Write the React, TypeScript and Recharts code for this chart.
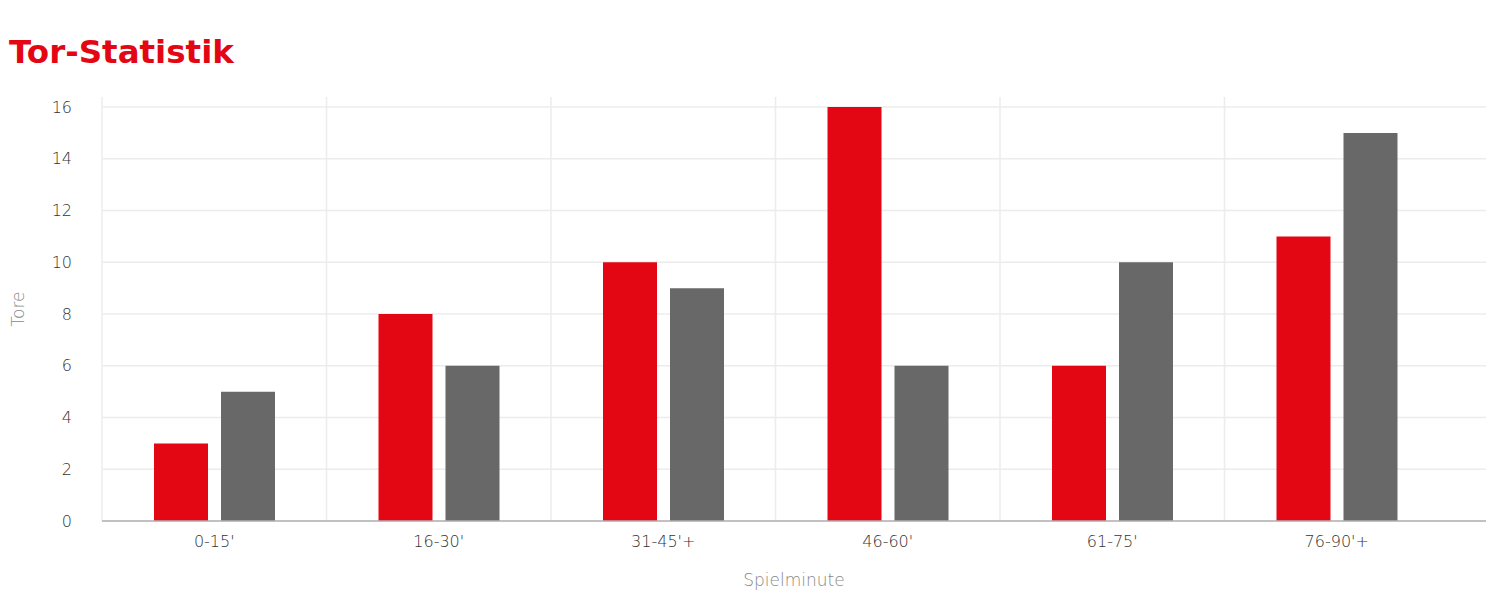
import React from "react";
import {
  BarChart,
  Bar,
  XAxis,
  YAxis,
  CartesianGrid,
  Label,
} from "recharts";

const CATEGORIES = ["0-15'", "16-30'", "31-45'+", "46-60'", "61-75'", "76-90'+"];
const TORE = [3, 8, 10, 16, 6, 11];
const GEGENTORE = [5, 6, 9, 6, 10, 15];
const Y_TICKS = [0, 2, 4, 6, 8, 10, 12, 14, 16];
const Y_MAX = 16;

const RED = "#e30613";
const GRAY = "#686868";
const FONT = "'DejaVu Sans', sans-serif";
const RIGHT_PAD = 37;
const TOP_PAD = 10;

const data = CATEGORIES.map((name, i) => ({
  name,
  tore: TORE[i],
  gegentore: GEGENTORE[i],
}));

// grid lines sit on the category boundaries, not on the tick centers
// eslint-disable-next-line @typescript-eslint/no-explicit-any
const boundaryLines = (props: any) => {
  const { offset } = props;
  const band = (offset.width - RIGHT_PAD) / CATEGORIES.length;
  return CATEGORIES.map((_, i) => offset.left + i * band);
};

// only the tick values, no extra line at the padded top
// eslint-disable-next-line @typescript-eslint/no-explicit-any
const tickLines = (props: any) => {
  const { offset } = props;
  const h = offset.height - TOP_PAD;
  return Y_TICKS.map((t) => offset.top + TOP_PAD + (1 - t / Y_MAX) * h);
};

const tickStyle = { fill: "#333", fontSize: 16, fontFamily: FONT, fontWeight: 200 };

export default function App() {
  return (
    <div
      style={{
        position: "absolute",
        left: 0,
        top: 0,
        width: 1503,
        height: 595,
        background: "#fff",
        fontFamily: FONT,
      }}
    >
      <div
        style={{
          position: "absolute",
          left: 9,
          top: 27,
          fontSize: 32.5,
          fontWeight: 700,
          color: RED,
          lineHeight: "50px",
        }}
      >
        Tor-Statistik
      </div>
      <BarChart
        width={1503}
        height={595}
        data={data}
        margin={{ top: 97, right: 17, bottom: 4, left: 0 }}
        barSize={54}
        barGap={13}
        style={{ position: "absolute", left: 0, top: 0 }}
      >
        <CartesianGrid
          stroke="#ececec"
          strokeWidth={1.5}
          verticalCoordinatesGenerator={boundaryLines}
          horizontalCoordinatesGenerator={tickLines}
        />
        <XAxis
          dataKey="name"
          height={70}
          padding={{ left: 0, right: RIGHT_PAD }}
          tickLine={false}
          axisLine={{ stroke: "#b0b0b0", strokeWidth: 1.5 }}
          tickMargin={9}
          tick={tickStyle}
          interval={0}
        >
          <Label
            value="Spielminute"
            position="insideBottom"
            offset={5}
            style={{ fill: "#888", fontSize: 17, fontFamily: FONT, fontWeight: 200 }}
          />
        </XAxis>
        <YAxis
          width={102}
          domain={[0, Y_MAX]}
          ticks={Y_TICKS}
          padding={{ top: TOP_PAD, bottom: 0 }}
          tickLine={false}
          axisLine={false}
          tickMargin={24}
          tick={tickStyle}
        >
          <Label
            value="Tore"
            angle={-90}
            position="insideLeft"
            offset={18}
            style={{
              fill: "#888",
              fontSize: 17,
              fontFamily: FONT,
              fontWeight: 200,
              textAnchor: "middle",
            }}
          />
        </YAxis>
        <Bar dataKey="tore" fill={RED} isAnimationActive={false} />
        <Bar dataKey="gegentore" fill={GRAY} isAnimationActive={false} />
      </BarChart>
    </div>
  );
}
